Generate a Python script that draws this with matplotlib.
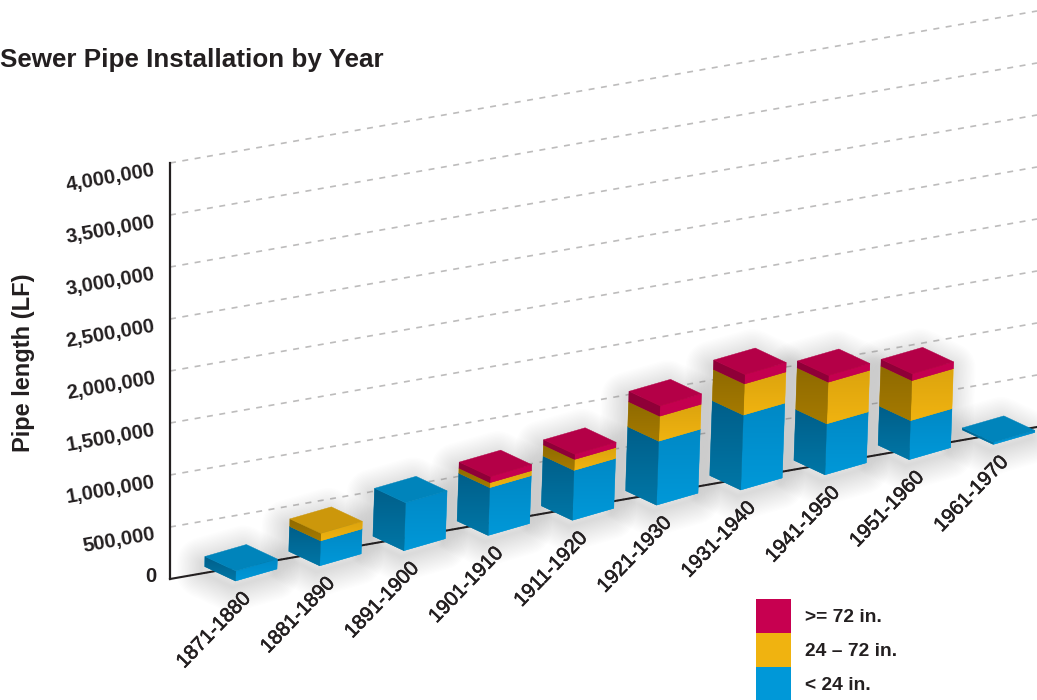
#!/usr/bin/env python3
"""Sewer pipe installation by decade, drawn as oblique stacked blocks."""
import matplotlib
matplotlib.use("Agg")
import matplotlib.pyplot as plt
import matplotlib.patheffects as pe
import numpy as np
from matplotlib.colors import LinearSegmentedColormap
from matplotlib.patches import Polygon, Rectangle

plt.rcParams["font.family"] = ["Liberation Sans", "DejaVu Sans"]

decades = ["1871-1880", "1881-1890", "1891-1900", "1901-1910", "1911-1920",
           "1921-1930", "1931-1940", "1941-1950", "1951-1960", "1961-1970"]
under_24 = [96000, 240000, 460000, 460000, 480000,
            615000, 720000, 490000, 375000, 20000]
mid_24_72 = [0, 72000, 0, 48000, 105000, 240000, 300000, 400000, 385000, 0]
over_72 = [0, 0, 0, 58000, 50000, 100000, 90000, 65000, 65000, 0]
y_ticks = [0, 500000, 1000000, 1500000, 2000000, 2500000, 3000000, 3500000,
           4000000]
legend_labels = [">= 72 in.", "24 – 72 in.", "< 24 in."]

# each face: (colour at its top, colour at its bottom)
BLUE = {"right": ("#0089c6", "#0098d8"), "top": "#0084bb",
        "left": ("#005f8a", "#0076a6")}
YELLOW = {"right": ("#dca40e", "#f0b310"), "top": "#cc970b",
          "left": ("#8f6a00", "#a57a00")}
RED = {"right": ("#c4004f", "#c4004f"), "top": "#b40047",
       "left": ("#8f0038", "#8f0038")}
LEGEND_COLORS = ["#c70050", "#f0b310", "#0098d8"]
INK = "#231f20"

PX_PER_UNIT = 104 / 1e6
X0, Y0 = 170, 579        # value axis foot
RIGHT = 1037
GRID_RISE = 152 / 867    # floor slope, px per px


def project(i, value, u=0.0, w=0.0):
    """decade index + value + block offsets (u right, w left) -> canvas px"""
    h = value * PX_PER_UNIT
    x = 235.5 + 84.2 * i + 0.035 * h + 41.5 * u - 31 * w
    y = 581 - 15.17 * i - h - 12 * u - 14.5 * w
    return x, y


def shaded(ax, pts, colors, z):
    poly = Polygon(pts, closed=True, fc=colors[1], ec=colors[1], lw=0.3, zorder=z)
    ax.add_patch(poly)
    xs, ys = zip(*pts)
    cmap = LinearSegmentedColormap.from_list("f", colors)
    im = ax.imshow(np.linspace(0, 1, 32)[:, None], cmap=cmap, aspect="auto",
                   extent=(min(xs), max(xs), max(ys), min(ys)), zorder=z,
                   interpolation="bilinear")
    im.set_clip_path(poly)


def block(ax, i, lo, hi, colors, z):
    a = [project(i, lo), project(i, lo, u=1), project(i, hi, u=1), project(i, hi)]
    b = [project(i, lo), project(i, lo, w=1), project(i, hi, w=1), project(i, hi)]
    t = [project(i, hi), project(i, hi, u=1), project(i, hi, u=1, w=1),
         project(i, hi, w=1)]
    shaded(ax, a, colors["right"], z)
    shaded(ax, b, colors["left"], z)
    ax.add_patch(Polygon(t, closed=True, fc=colors["top"], ec=colors["top"],
                         lw=0.3, zorder=z))


fig = plt.figure(figsize=(10.37, 7.0), dpi=100)
ax = fig.add_axes([0, 0, 1, 1])

# --- grid, axes
for v in y_ticks:
    y = Y0 - v * PX_PER_UNIT
    y_end = y - (RIGHT - X0) * GRID_RISE
    if v == 0:
        ax.plot([X0, RIGHT], [y, y_end], color=INK, lw=1.5, zorder=2)
        ax.text(156, y - 2, "0", ha="right", va="center", fontsize=14.6,
                fontweight="bold", color=INK)
    else:
        ax.plot([X0, RIGHT], [y, y_end], color="#bdbcbc", lw=1.2,
                dashes=(3.6, 3.9), zorder=1)
        ax.text(155, y + 7, f"{v:,}", ha="right", va="center", rotation=10,
                rotation_mode="anchor", fontsize=14.6, fontweight="bold",
                color=INK)
ax.plot([X0, X0], [Y0, Y0 - 4000000 * PX_PER_UNIT], color=INK, lw=1.6,
        zorder=2, solid_capstyle="projecting")

# --- blocks, with a soft shadow underneath each
for i, name in enumerate(decades):
    top = under_24[i] + mid_24_72[i] + over_72[i]
    hull = [project(i, 0, w=1), project(i, 0), project(i, 0, u=1),
            project(i, top, u=1), project(i, top, u=1, w=1), project(i, top, w=1)]
    hull = [(x - 3, y + 6) for x, y in hull]
    for lw in range(36, 0, -2):
        ax.add_patch(Polygon(hull, closed=True, fc="none", ec="#555555",
                             lw=lw, alpha=0.009, joinstyle="round", zorder=3))

    z = 4 + i
    block(ax, i, 0, under_24[i], BLUE, z)
    lo = under_24[i]
    if mid_24_72[i]:
        block(ax, i, lo, lo + mid_24_72[i], YELLOW, z)
        lo += mid_24_72[i]
    if over_72[i]:
        block(ax, i, lo, lo + over_72[i], RED, z)

    x, y = project(i, 0)
    ax.text(x + 5, y + 8, name, ha="right", va="top", rotation=46,
            rotation_mode="anchor", fontsize=14.6, color=INK, zorder=20,
            path_effects=[pe.withStroke(linewidth=0.4, foreground=INK)])

# --- labels
ax.text(0, 60, "Sewer Pipe Installation by Year", ha="left", va="center",
        fontsize=18.7, fontweight="bold", color=INK)
ax.text(24, 363, "Pipe length (LF)", ha="center", va="center", rotation=90,
        fontsize=17, fontweight="bold", color=INK)

# --- legend
for k, (lab, c) in enumerate(zip(legend_labels, LEGEND_COLORS)):
    ax.add_patch(Rectangle((756, 599 + 34 * k), 35, 34, fc=c, ec="none",
                           zorder=5))
    ax.text(805, 618 + 33.5 * k, lab, ha="left", va="center", fontsize=13.9,
            fontweight="bold", color=INK)

ax.set_xlim(0, 1037)
ax.set_ylim(700, 0)
ax.axis("off")

fig.savefig("out.png", dpi=100)
